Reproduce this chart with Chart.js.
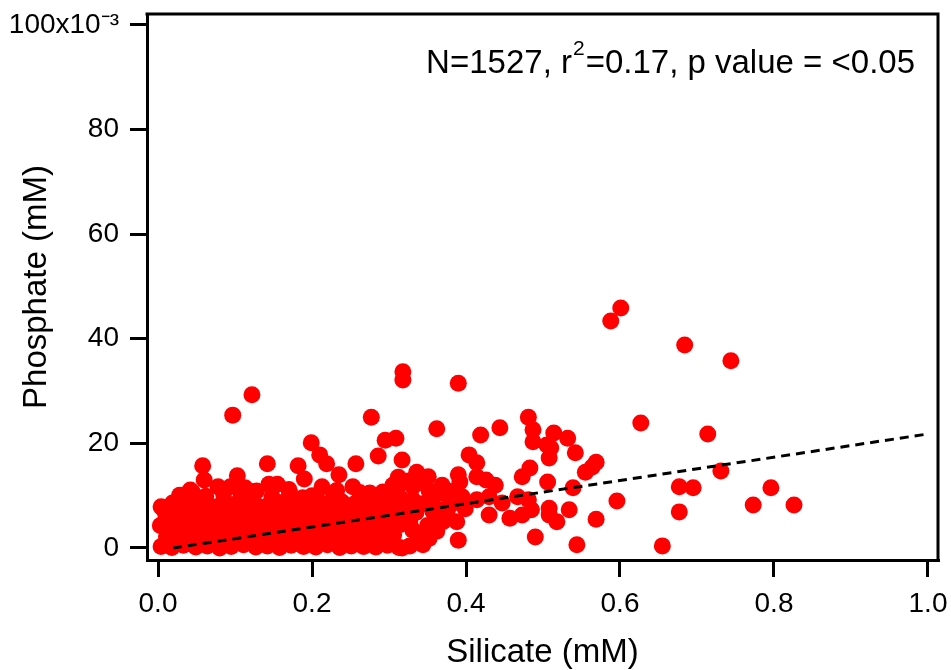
<!DOCTYPE html>
<html><head><meta charset="utf-8">
<script src="https://cdn.jsdelivr.net/npm/chart.js@4.4.1/dist/chart.umd.min.js"></script>
<style>html,body{margin:0;padding:0;background:#fff;}#wrap{width:951px;height:670px;}</style>
</head><body><div id="wrap"><canvas id="c" width="951" height="670"></canvas></div>
<script>
const xTicks = [0, 0.2, 0.4, 0.6, 0.8, 1.0];
const yTicks = [0, 20, 40, 60, 80, 100];
const xTitle = 'Silicate (mM)';
const yTitle = 'Phosphate (mM)';
const statsBefore = 'N=1527, r';
const statsSup = '2';
const statsAfter = '=0.17, p value = <0.05';
// regression line end points
const fitSilicate = [0.0195, 1.0];
const fitPhosphate = [0.0, 21.8];
// phosphate in units of 10^-3 mM
const silicate = [
 0.004,0.018,0.033,0.049,0.064,0.080,0.095,0.111,0.127,0.142,0.158,0.173,0.189,0.205,0.220,0.236,0.251,0.267,0.283,0.298,0.313,
 0.011,0.026,0.041,0.057,0.072,0.088,0.103,0.119,0.134,0.150,0.166,0.181,0.197,0.212,0.228,0.244,0.259,0.275,0.290,0.306,
 0.003,0.019,0.034,0.050,0.065,0.081,0.096,0.112,0.128,0.143,0.159,0.174,0.190,0.206,0.221,0.237,0.252,0.268,0.284,0.299,0.315,
 0.010,0.027,0.042,0.058,0.073,0.089,0.104,0.120,0.135,0.151,0.167,0.182,0.198,0.213,0.229,0.245,0.260,0.276,0.291,0.307,
 0.004,0.020,0.036,0.051,0.067,0.083,0.098,0.114,0.130,0.145,0.161,0.177,0.192,0.208,0.224,0.239,0.255,0.270,0.286,0.301,0.317,
 0.028,0.045,0.062,0.085,0.108,0.125,0.148,0.171,0.200,0.228,0.262,0.288,0.305,
 0.315,0.322,0.335,0.345,0.352,0.340,0.325,0.312,0.338,0.350,0.360,0.356,0.305,0.362,0.378,0.380,0.395,0.352,0.382,0.376,0.357,0.170,0.232,0.128,
 0.588,0.601,0.684,0.744,0.318,0.318,0.390,0.122,0.097,0.277,
 0.481,0.627,0.362,0.444,0.487,0.514,0.419,0.714,0.532,0.309,
 0.295,0.199,0.487,0.505,0.510,0.542,0.210,0.286,0.404,0.508,
 0.317,0.414,0.569,0.219,0.257,0.142,0.058,0.182,0.564,0.483,
 0.555,0.731,0.336,0.390,0.235,0.103,0.351,0.414,0.473,0.190,
 0.060,0.426,0.392,0.506,0.144,0.155,0.369,0.438,0.213,0.253,
 0.078,0.094,0.331,0.677,0.113,0.539,0.695,0.796,0.042,0.310,
 0.032,0.292,0.275,0.369,0.467,0.430,0.206,0.188,0.331,0.414,
 0.481,0.596,0.019,0.223,0.447,0.773,0.826,0.165,0.006,0.508,
 0.399,0.366,0.485,0.534,0.677,0.508,0.473,0.430,0.457,0.569,
 0.327,0.009,0.327,0.388,0.370,0.518,0.331,0.490,0.390,0.344,
 0.344,0.327,0.317,0.544,0.655
];
const phosphate = [
 0.3,0.1,0.5,0.2,0.4,0.0,0.3,0.6,0.2,0.4,0.1,0.5,0.3,0.2,0.6,0.1,0.4,0.3,0.2,0.5,0.1,
 2.2,1.9,2.4,2.0,2.3,1.8,2.5,2.1,1.9,2.4,2.2,2.0,2.6,1.8,2.3,2.1,2.4,1.9,2.2,2.5,
 4.3,4.0,4.5,4.1,4.6,4.2,3.9,4.4,4.2,4.7,4.0,4.3,4.5,4.1,3.9,4.4,4.6,4.0,4.3,4.2,4.5,
 6.4,6.1,6.6,6.2,6.8,6.0,6.5,6.3,6.7,6.1,6.4,6.6,6.2,6.5,6.0,6.8,6.3,6.6,6.1,6.4,
 7.9,8.6,8.2,8.8,8.1,8.5,8.3,8.9,8.0,8.4,8.7,8.2,8.6,8.3,8.0,8.8,8.4,8.1,8.7,8.5,8.2,
 10.1,10.6,9.9,10.4,10.2,10.8,9.8,10.5,10.0,10.3,10.6,9.9,10.9,
 9.5,7.5,6.8,8.5,11.0,12.5,12.8,13.5,2.0,4.3,6.0,9.2,12.0,3.2,8.0,10.8,9.8,1.8,8.5,6.2,7.0,11.2,11.0,10.9,
 43.4,45.9,38.8,35.8,33.7,32.1,31.5,29.3,25.4,25.0,
 25.0,23.9,22.8,23.0,22.6,22.0,21.6,21.8,21.0,21.0,
 20.6,20.1,20.3,19.7,19.1,18.2,17.8,17.6,17.8,17.2,
 16.8,16.3,16.4,16.1,16.1,16.1,15.7,15.7,15.5,15.3,
 14.5,14.7,14.5,14.0,14.0,13.8,13.6,13.6,13.6,13.2,
 13.0,13.0,12.6,12.6,12.2,12.2,12.0,12.0,11.7,11.7,
 11.7,11.7,11.7,11.7,11.5,11.5,11.5,11.5,11.1,11.1,
 10.1,10.7,10.5,10.5,9.8,9.8,9.8,9.6,9.2,9.2,
 9.2,9.0,8.6,8.6,8.6,8.2,8.2,7.8,7.6,7.6,
 7.5,7.3,7.3,7.3,6.9,6.3,6.3,6.3,5.7,5.5,
 5.4,4.8,4.8,5.0,5.0,5.0,3.4,2.1,1.5,1.0,
 0.6,0.4,0.0,0.6,0.4
];

const n = Math.min(silicate.length, phosphate.length);
const points = [];
for (let i = 0; i < n; i++) points.push({x: silicate[i], y: phosphate[i]});
const fitLine = fitSilicate.map((v, i) => ({x: v, y: fitPhosphate[i]}));

const FONT = '"Liberation Sans", Arial, sans-serif';

const framePlugin = {
  id: 'frame',
  afterDraw(chart) {
    const {ctx, chartArea: a} = chart;
    ctx.save();
    ctx.strokeStyle = '#000';
    ctx.lineWidth = 3;
    ctx.beginPath();
    ctx.moveTo(a.left - 1.5, a.top);
    ctx.lineTo(a.right, a.top);
    ctx.lineTo(a.right, a.bottom + 1.5);
    ctx.stroke();
    // statistics annotation
    ctx.fillStyle = '#000';
    ctx.textBaseline = 'alphabetic';
    const big = '33px ' + FONT, small = '21px ' + FONT;
    ctx.font = big; const w1 = ctx.measureText(statsBefore).width; const w3 = ctx.measureText(statsAfter).width;
    ctx.font = small; const w2 = ctx.measureText(statsSup).width + 2;
    const right = a.right - 23, base = 73;
    let x = right - (w1 + w2 + w3);
    ctx.font = big; ctx.fillText(statsBefore, x, base); x += w1;
    ctx.font = small; ctx.fillText(statsSup, x + 1, base - 18); x += w2;
    ctx.font = big; ctx.fillText(statsAfter, x, base);
    ctx.restore();
  }
};

new Chart(document.getElementById('c'), {
  type: 'scatter',
  data: {
    datasets: [
      {
        type: 'line', data: fitLine, borderColor: '#000', borderWidth: 3, borderDash: [9, 6],
        pointRadius: 0, fill: false, showLine: true, order: 0
      },
      {
        data: points, backgroundColor: '#ff0000', borderColor: '#ff0000',
        pointRadius: 8.5, pointHoverRadius: 8.5, pointBorderWidth: 0, order: 1
      }
    ]
  },
  options: {
    responsive: false, animation: false, devicePixelRatio: 1,
    layout: {padding: {left: 0, right: 13, top: 14, bottom: 0}},
    plugins: {legend: {display: false}, tooltip: {enabled: false}},
    scales: {
      x: {
        type: 'linear', min: -0.0143, max: 1.013,
        afterBuildTicks: s => { s.ticks = xTicks.map(v => ({value: v})); },
        afterFit: s => { s.height = 110; s.paddingLeft = 0; s.paddingRight = 0; },
        grid: {drawOnChartArea: false, drawTicks: true, tickLength: 17, tickColor: '#000', tickWidth: 3, color: '#000', lineWidth: 3},
        border: {display: true, color: '#000', width: 3},
        ticks: {color: '#000', font: {family: FONT, size: 28}, padding: 10, maxRotation: 0, autoSkip: false,
                callback: v => Number(v).toFixed(1)},
        title: {display: true, text: xTitle, color: '#000', font: {family: FONT, size: 33}, padding: {top: 0, bottom: -3}}
      },
      y: {
        type: 'linear', min: -2.3, max: 102.1,
        afterBuildTicks: s => { s.ticks = yTicks.map(v => ({value: v})); },
        afterFit: s => { s.width = 147; s.paddingTop = 0; s.paddingBottom = 0; },
        grid: {drawOnChartArea: false, drawTicks: true, tickLength: 17, tickColor: '#000', tickWidth: 3, color: '#000', lineWidth: 3},
        border: {display: true, color: '#000', width: 3},
        ticks: {color: '#000', font: {family: FONT, size: 28}, padding: 11, autoSkip: false,
                callback: v => (v === 100 ? '100x10\u207B\u00B3' : String(v))},
        title: {display: true, text: yTitle, color: '#000', font: {family: FONT, size: 33}, padding: {top: 17, bottom: 0}}
      }
    }
  },
  plugins: [framePlugin]
});
</script>
</body></html>
